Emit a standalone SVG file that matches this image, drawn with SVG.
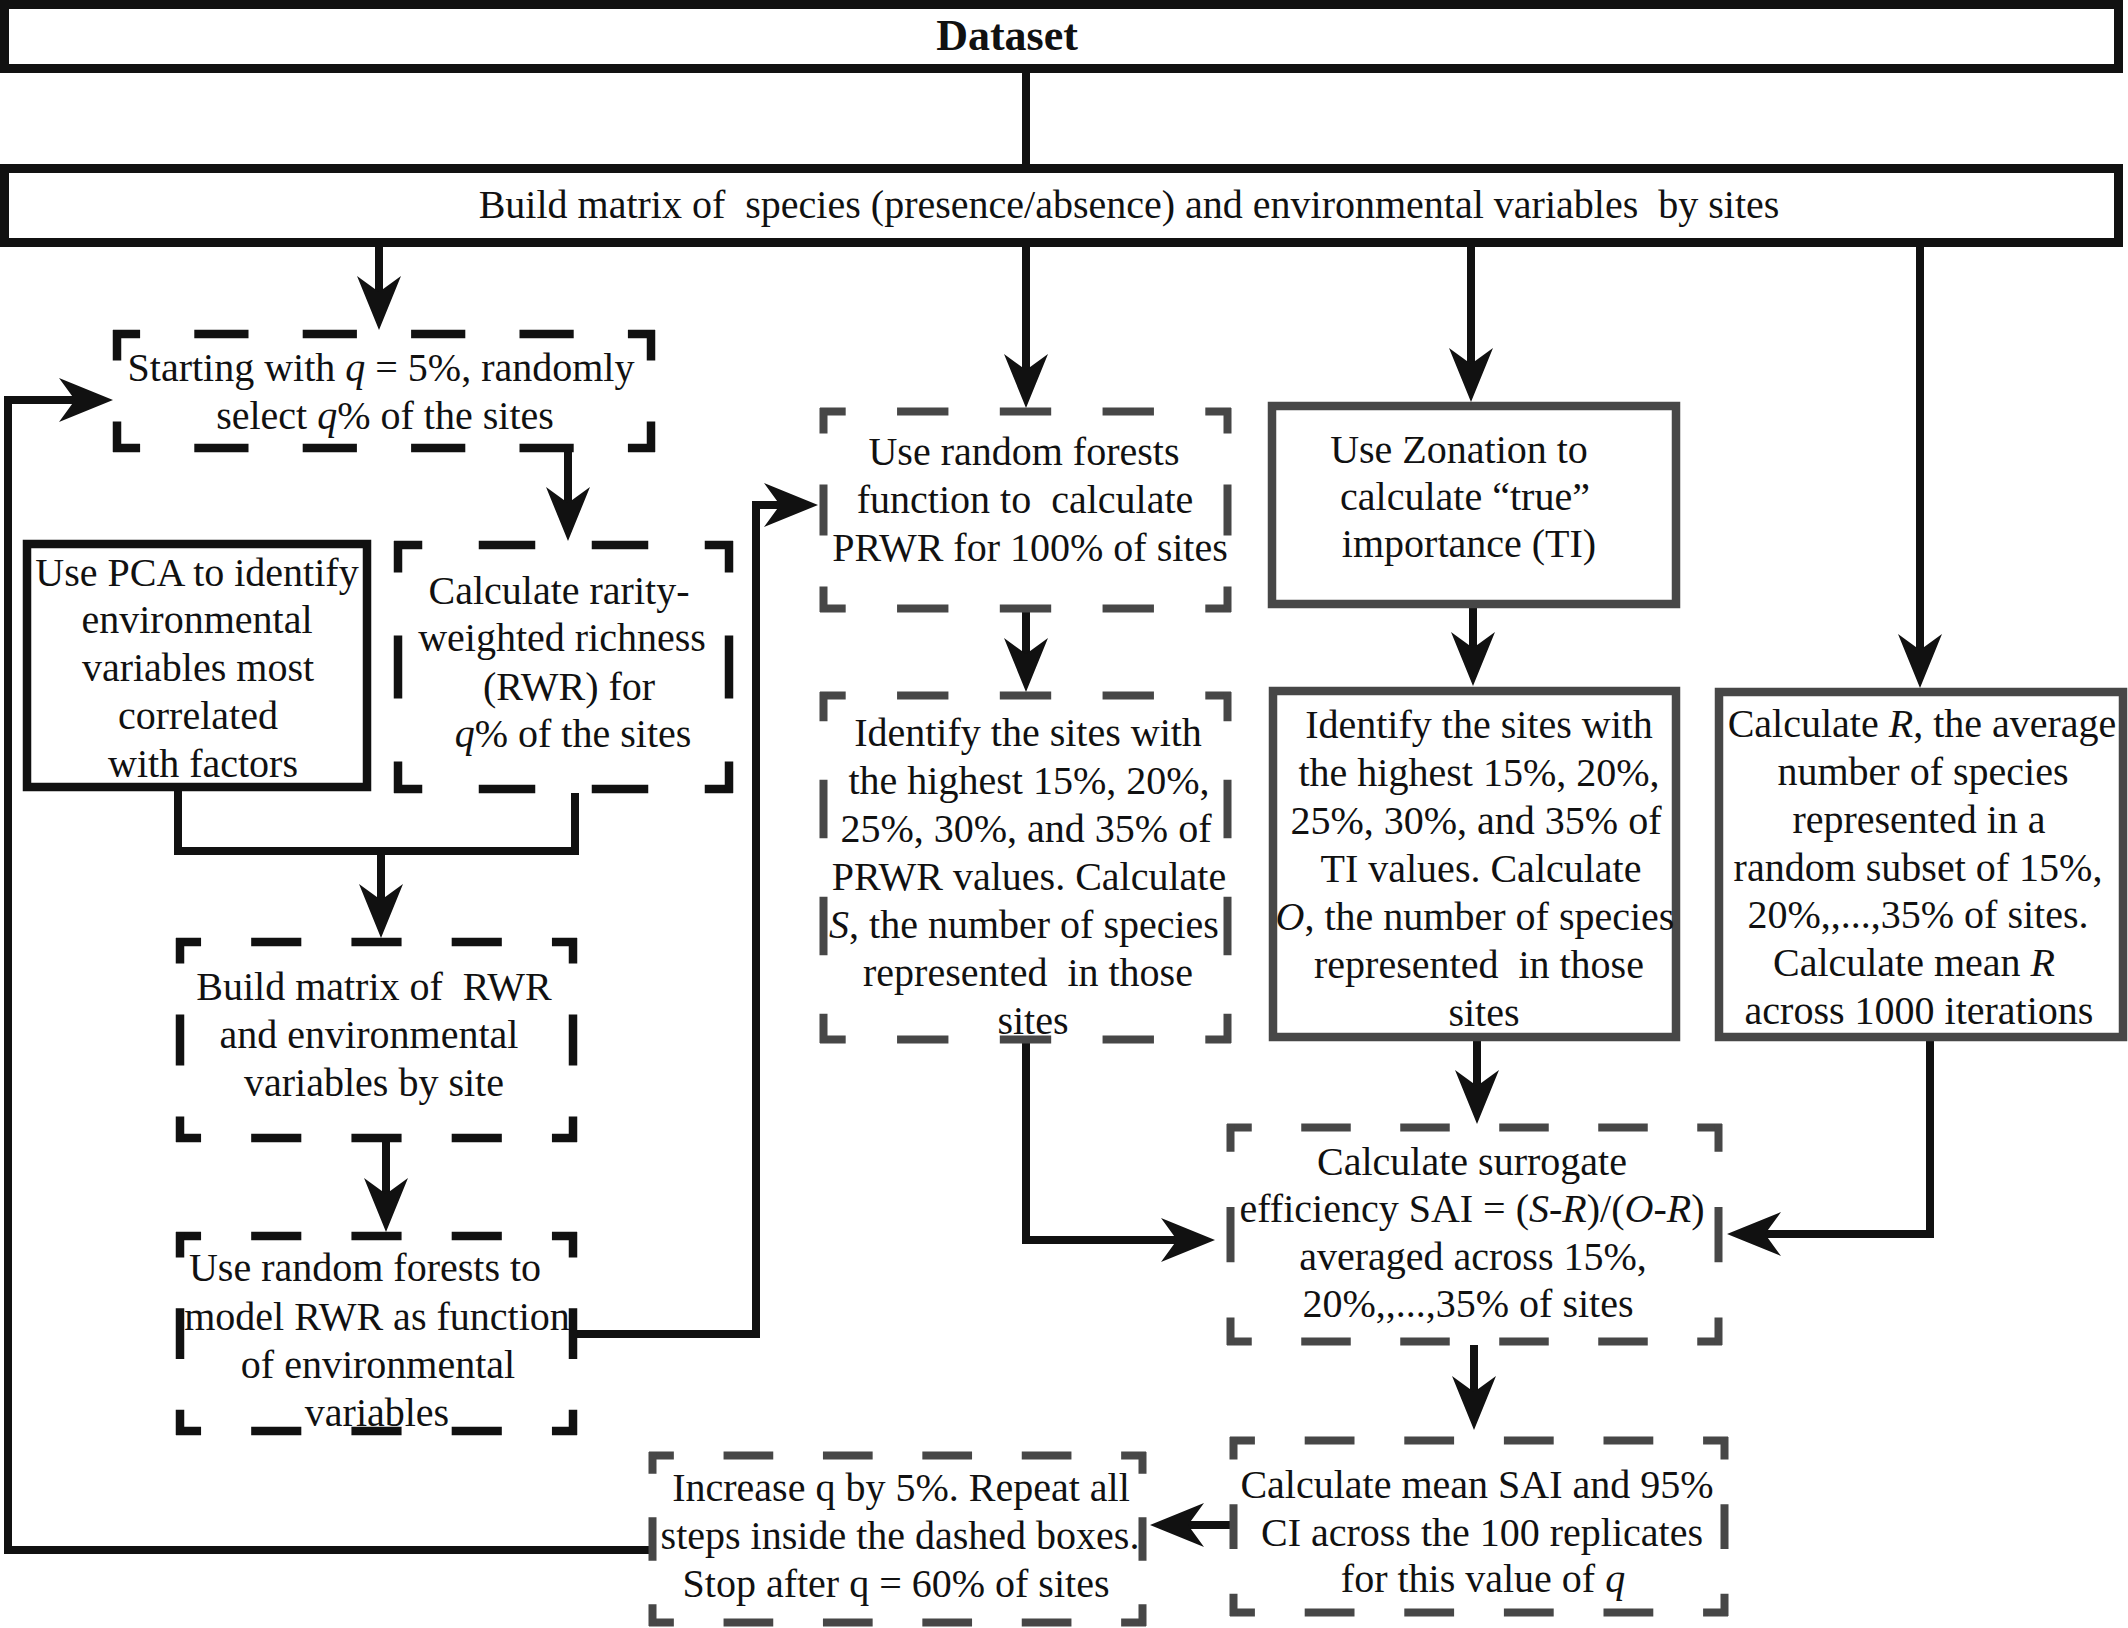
<svg xmlns="http://www.w3.org/2000/svg" width="2128" height="1628" viewBox="0 0 2128 1628">
<defs>
<style>
.t{font-family:"Liberation Serif","Times New Roman",serif;font-size:40px;fill:#111;text-anchor:middle}
.bd{font-weight:bold;font-size:44px}
.i{font-style:italic}
.sk{fill:#fff;stroke:#111;stroke-width:8.5}
.sk9{fill:#fff;stroke:#111;stroke-width:9}
.sg{fill:#fff;stroke:#474747;stroke-width:8.5}
.dk{fill:none;stroke:#111;stroke-width:8.5}
.dg{fill:none;stroke:#474747;stroke-width:8}
.c{fill:none;stroke:#111;stroke-width:8;stroke-linejoin:miter}
.a{marker-end:url(#ah)}
</style>
<marker id="ah" markerUnits="userSpaceOnUse" viewBox="-30 -25 60 50" markerWidth="60" markerHeight="50" refX="0" refY="0" orient="auto" overflow="visible">
<path d="M27,0 L-27,-22 L-11,0 L-27,22 Z" fill="#111"/>
</marker>
</defs>
<rect width="2128" height="1628" fill="#fff"/>

<g id="connectors">
<path class="c" d="M1026,70 V168"/>
<path class="c a" d="M379,247 V303"/>
<path class="c a" d="M1026,247 V381"/>
<path class="c a" d="M1471,247 V375"/>
<path class="c a" d="M1920,247 V661"/>
<path class="c a" d="M568,452 V514"/>
<path class="c" d="M178,791 V851 H575 V793"/>
<path class="c a" d="M381,851 V911"/>
<path class="c a" d="M386,1142 V1205"/>
<path class="c a" d="M577,1334 H756 V505 H791"/>
<path class="c a" d="M1026,612 V665"/>
<path class="c a" d="M1473,608 V659"/>
<path class="c a" d="M1026,1043 V1240 H1188"/>
<path class="c a" d="M1477,1041 V1097"/>
<path class="c a" d="M1930,1041 V1234 H1754"/>
<path class="c a" d="M1474,1345 V1403"/>
<path class="c a" d="M1230,1525 H1177"/>
<path class="c a" d="M649,1550 H8 V400 H86"/>
</g>

<g id="dataset">
<rect class="sk9" x="4.5" y="4.5" width="2114" height="64"/>
<text class="t bd" x="1007" y="50">Dataset</text>
</g>

<g id="build-matrix">
<rect class="sk9" x="4.5" y="168.5" width="2114" height="74"/>
<text class="t" x="1129" y="218" xml:space="preserve">Build matrix of  species (presence/absence) and environmental variables  by sites</text>
</g>

<g id="starting">
<line class="dk" x1="113" y1="334" x2="655" y2="334" stroke-dasharray="54.2 54.2" stroke-dashoffset="27.1"/>
<line class="dk" x1="113" y1="448" x2="655" y2="448" stroke-dasharray="54.2 54.2" stroke-dashoffset="27.1"/>
<line class="dk" x1="117" y1="330" x2="117" y2="452" stroke-dasharray="61 61" stroke-dashoffset="30.5"/>
<line class="dk" x1="651" y1="330" x2="651" y2="452" stroke-dasharray="61 61" stroke-dashoffset="30.5"/>
<text class="t" x="381" y="381">Starting with <tspan class="i">q</tspan> = 5%, randomly</text>
<text class="t" x="385" y="429">select <tspan class="i">q</tspan>% of the sites</text>
</g>

<g id="pca">
<rect class="sk" x="27" y="544" width="340" height="243"/>
<text class="t" x="197" y="586">Use PCA to identify</text>
<text class="t" x="197" y="633">environmental</text>
<text class="t" x="198" y="681">variables most</text>
<text class="t" x="198" y="729">correlated</text>
<text class="t" x="203" y="777">with factors</text>
</g>

<g id="rarity">
<line class="dk" x1="394" y1="545" x2="733" y2="545" stroke-dasharray="56.5 56.5" stroke-dashoffset="28.25"/>
<line class="dk" x1="394" y1="789" x2="733" y2="789" stroke-dasharray="56.5 56.5" stroke-dashoffset="28.25"/>
<line class="dk" x1="398" y1="541" x2="398" y2="793" stroke-dasharray="63 63" stroke-dashoffset="31.5"/>
<line class="dk" x1="729" y1="541" x2="729" y2="793" stroke-dasharray="63 63" stroke-dashoffset="31.5"/>
<text class="t" x="559" y="604">Calculate rarity-</text>
<text class="t" x="562" y="651">weighted richness</text>
<text class="t" x="569" y="700">(RWR) for</text>
<text class="t" x="573" y="747"><tspan class="i">q</tspan>% of the sites</text>
</g>

<g id="build-rwr">
<line class="dk" x1="176" y1="942" x2="577" y2="942" stroke-dasharray="50.125 50.125" stroke-dashoffset="25.06"/>
<line class="dk" x1="176" y1="1138" x2="577" y2="1138" stroke-dasharray="50.125 50.125" stroke-dashoffset="25.06"/>
<line class="dk" x1="180" y1="938" x2="180" y2="1142" stroke-dasharray="51 51" stroke-dashoffset="25.5"/>
<line class="dk" x1="573" y1="938" x2="573" y2="1142" stroke-dasharray="51 51" stroke-dashoffset="25.5"/>
<text class="t" x="374" y="1000" xml:space="preserve">Build matrix of  RWR</text>
<text class="t" x="369" y="1048">and environmental</text>
<text class="t" x="374" y="1096">variables by site</text>
</g>

<g id="rf-model">
<line class="dk" x1="176" y1="1236" x2="577" y2="1236" stroke-dasharray="50.125 50.125" stroke-dashoffset="25.06"/>
<line class="dk" x1="176" y1="1431" x2="577" y2="1431" stroke-dasharray="50.125 50.125" stroke-dashoffset="25.06"/>
<line class="dk" x1="180" y1="1232" x2="180" y2="1435" stroke-dasharray="50.75 50.75" stroke-dashoffset="25.375"/>
<line class="dk" x1="573" y1="1232" x2="573" y2="1435" stroke-dasharray="50.75 50.75" stroke-dashoffset="25.375"/>
<text class="t" x="365" y="1281">Use random forests to</text>
<text class="t" x="377" y="1330">model RWR as function</text>
<text class="t" x="378" y="1378">of environmental</text>
<text class="t" x="377" y="1426">variables</text>
</g>

<g id="rf-prwr">
<line class="dg" x1="820" y1="411.5" x2="1231" y2="411.5" stroke-dasharray="51.375 51.375" stroke-dashoffset="25.69"/>
<line class="dg" x1="820" y1="608.5" x2="1231" y2="608.5" stroke-dasharray="51.375 51.375" stroke-dashoffset="25.69"/>
<line class="dg" x1="823.5" y1="408" x2="823.5" y2="612" stroke-dasharray="51 51" stroke-dashoffset="25.5"/>
<line class="dg" x1="1227.5" y1="408" x2="1227.5" y2="612" stroke-dasharray="51 51" stroke-dashoffset="25.5"/>
<text class="t" x="1024" y="465">Use random forests</text>
<text class="t" x="1025" y="513" xml:space="preserve">function to  calculate</text>
<text class="t" x="1030" y="561">PRWR for 100% of sites</text>
</g>

<g id="zonation">
<rect class="sg" x="1272" y="406" width="404" height="198"/>
<text class="t" x="1459" y="463">Use Zonation to</text>
<text class="t" x="1465" y="510">calculate “true”</text>
<text class="t" x="1469" y="557">importance (TI)</text>
</g>

<g id="identify-s">
<line class="dg" x1="820" y1="695.5" x2="1231" y2="695.5" stroke-dasharray="51.375 51.375" stroke-dashoffset="25.69"/>
<line class="dg" x1="820" y1="1039.5" x2="1231" y2="1039.5" stroke-dasharray="51.375 51.375" stroke-dashoffset="25.69"/>
<line class="dg" x1="823.5" y1="692" x2="823.5" y2="1043" stroke-dasharray="58.5 58.5" stroke-dashoffset="29.25"/>
<line class="dg" x1="1227.5" y1="692" x2="1227.5" y2="1043" stroke-dasharray="58.5 58.5" stroke-dashoffset="29.25"/>
<text class="t" x="1028" y="746">Identify the sites with</text>
<text class="t" x="1029" y="794">the highest 15%, 20%,</text>
<text class="t" x="1026" y="842">25%, 30%, and 35% of</text>
<text class="t" x="1029" y="890">PRWR values. Calculate</text>
<text class="t" x="1024" y="938"><tspan class="i">S</tspan>, the number of species</text>
<text class="t" x="1028" y="986" xml:space="preserve">represented  in those</text>
<text class="t" x="1033" y="1034">sites</text>
</g>

<g id="identify-o">
<rect class="sg" x="1273" y="691" width="403" height="346"/>
<text class="t" x="1479" y="738">Identify the sites with</text>
<text class="t" x="1479" y="786">the highest 15%, 20%,</text>
<text class="t" x="1476" y="834">25%, 30%, and 35% of</text>
<text class="t" x="1481" y="882">TI values. Calculate</text>
<text class="t" x="1475" y="930"><tspan class="i">O</tspan>, the number of species</text>
<text class="t" x="1479" y="978" xml:space="preserve">represented  in those</text>
<text class="t" x="1484" y="1026">sites</text>
</g>

<g id="calc-r">
<rect class="sg" x="1719" y="692" width="404" height="345"/>
<text class="t" x="1922" y="737">Calculate <tspan class="i">R</tspan>, the average</text>
<text class="t" x="1923" y="785">number of species</text>
<text class="t" x="1919" y="833">represented in a</text>
<text class="t" x="1918" y="881">random subset of 15%,</text>
<text class="t" x="1918" y="928">20%,,...,35% of sites.</text>
<text class="t" x="1914" y="976">Calculate mean <tspan class="i">R</tspan></text>
<text class="t" x="1919" y="1024">across 1000 iterations</text>
</g>

<g id="surrogate">
<line class="dg" x1="1227" y1="1127.5" x2="1722" y2="1127.5" stroke-dasharray="49.5 49.5" stroke-dashoffset="24.75"/>
<line class="dg" x1="1227" y1="1341.5" x2="1722" y2="1341.5" stroke-dasharray="49.5 49.5" stroke-dashoffset="24.75"/>
<line class="dg" x1="1230.5" y1="1124" x2="1230.5" y2="1345" stroke-dasharray="55.25 55.25" stroke-dashoffset="27.625"/>
<line class="dg" x1="1718.5" y1="1124" x2="1718.5" y2="1345" stroke-dasharray="55.25 55.25" stroke-dashoffset="27.625"/>
<text class="t" x="1472" y="1175">Calculate surrogate</text>
<text class="t" x="1472" y="1222">efficiency SAI = (<tspan class="i">S</tspan>-<tspan class="i">R</tspan>)/(<tspan class="i">O</tspan>-<tspan class="i">R</tspan>)</text>
<text class="t" x="1473" y="1270">averaged across 15%,</text>
<text class="t" x="1468" y="1317">20%,,...,35% of sites</text>
</g>

<g id="mean-sai">
<line class="dg" x1="1230" y1="1440.5" x2="1728" y2="1440.5" stroke-dasharray="49.8 49.8" stroke-dashoffset="24.9"/>
<line class="dg" x1="1230" y1="1612.5" x2="1728" y2="1612.5" stroke-dasharray="49.8 49.8" stroke-dashoffset="24.9"/>
<line class="dg" x1="1233.5" y1="1437" x2="1233.5" y2="1616" stroke-dasharray="44.75 44.75" stroke-dashoffset="22.375"/>
<line class="dg" x1="1724.5" y1="1437" x2="1724.5" y2="1616" stroke-dasharray="44.75 44.75" stroke-dashoffset="22.375"/>
<text class="t" x="1477" y="1498">Calculate mean SAI and 95%</text>
<text class="t" x="1482" y="1546">CI across the 100 replicates</text>
<text class="t" x="1483" y="1592">for this value of <tspan class="i">q</tspan></text>
</g>

<g id="increase">
<line class="dg" x1="649" y1="1455.5" x2="1146" y2="1455.5" stroke-dasharray="49.7 49.7" stroke-dashoffset="24.85"/>
<line class="dg" x1="649" y1="1622.5" x2="1146" y2="1622.5" stroke-dasharray="49.7 49.7" stroke-dashoffset="24.85"/>
<line class="dg" x1="652.5" y1="1452" x2="652.5" y2="1626" stroke-dasharray="43.5 43.5" stroke-dashoffset="21.75"/>
<line class="dg" x1="1142.5" y1="1452" x2="1142.5" y2="1626" stroke-dasharray="43.5 43.5" stroke-dashoffset="21.75"/>
<text class="t" x="901" y="1501">Increase q by 5%. Repeat all</text>
<text class="t" x="900" y="1549">steps inside the dashed boxes.</text>
<text class="t" x="896" y="1597">Stop after q = 60% of sites</text>
</g>
</svg>
